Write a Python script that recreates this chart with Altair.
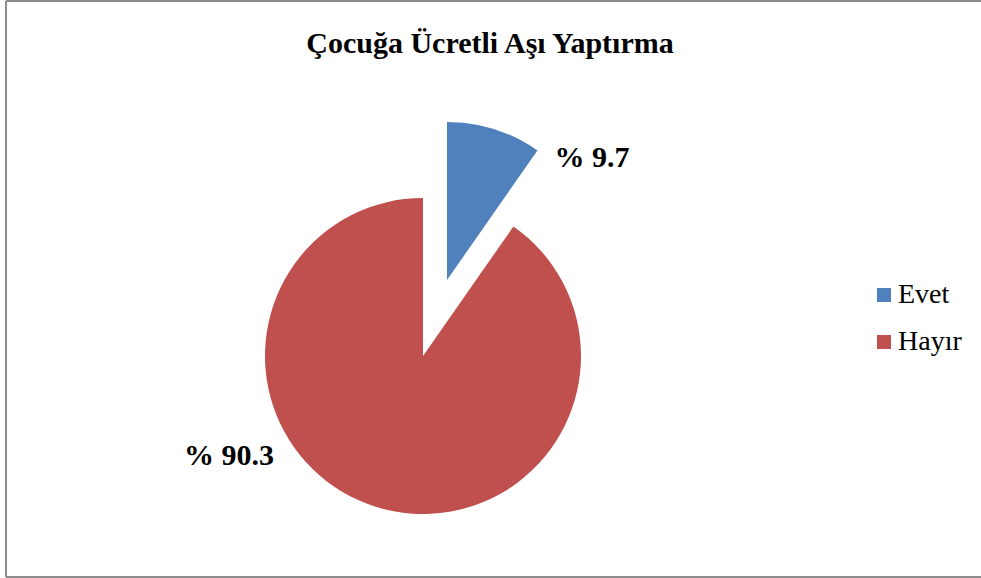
import math
import altair as alt
import pandas as pd

categories = ["Evet", "Hayır"]
values = [9.7, 90.3]
label_texts = ["% 9.7", "% 90.3"]
colors = ["#4F81BD", "#C0504D"]
title_text = "Çocuğa Ücretli Aşı Yaptırma"

SERIF = "Liberation Serif"
BORDER = "#8c8c8c"

df = pd.DataFrame({"cat": categories, "value": values, "label": label_texts, "order": [0, 1]})

base = (
    alt.Chart(df)
    .transform_window(end="sum(value)", sort=[alt.SortField("order")], frame=[None, 0])
    .transform_calculate(start="datum.end - datum.value")
)

theta = alt.Theta("start:Q", scale=alt.Scale(domain=[0, 100], range=[0, 2 * math.pi]))
color = alt.Color(
    "cat:N",
    scale=alt.Scale(domain=categories, range=colors),
    legend=alt.Legend(
        orient="none",
        legendX=864,
        legendY=280,
        title=None,
        symbolType="square",
        symbolSize=196,
        symbolStrokeWidth=0,
        labelFont=SERIF,
        labelFontSize=28,
        labelColor="#000000",
        labelOffset=0,
        rowPadding=19,
    ),
)

R = 158
cx, cy = 417, 355

hayir = base.transform_filter("datum.cat == 'Hayır'").mark_arc(radius=R).encode(
    theta=theta, theta2="end:Q", color=color,
    x=alt.value(cx), y=alt.value(cy),
)
evet = base.transform_filter("datum.cat == 'Evet'").mark_arc(radius=R).encode(
    theta=theta, theta2="end:Q", color=color,
    x=alt.value(cx + 24), y=alt.value(cy - 76),
)

lbl_font = dict(font=SERIF, fontSize=30, fontWeight="bold", color="#000000",
                align="center", baseline="alphabetic")
lbl_evet = alt.Chart(df).transform_filter("datum.cat == 'Evet'").mark_text(**lbl_font).encode(
    text="label:N", x=alt.value(586), y=alt.value(166))
lbl_hayir = alt.Chart(df).transform_filter("datum.cat == 'Hayır'").mark_text(**lbl_font).encode(
    text="label:N", x=alt.value(223), y=alt.value(464))

title = alt.Chart(pd.DataFrame({"t": [title_text]})).mark_text(**lbl_font).encode(
    text="t:N", x=alt.value(484), y=alt.value(52))

one = pd.DataFrame({"k": [0]})
border_left = alt.Chart(one).mark_rule(color=BORDER, strokeWidth=2).encode(
    x=alt.value(0), y=alt.value(0), y2=alt.value(576))
border_top = alt.Chart(one).mark_rule(color=BORDER, strokeWidth=2).encode(
    x=alt.value(0), x2=alt.value(975), y=alt.value(0))
border_bottom = alt.Chart(one).mark_rule(color=BORDER, strokeWidth=2).encode(
    x=alt.value(0), x2=alt.value(975), y=alt.value(576))

chart = (
    alt.layer(hayir, evet, lbl_evet, lbl_hayir, title, border_left, border_top, border_bottom)
    .properties(
        width=974,
        height=576,
        autosize=alt.AutoSizeParams(type="none"),
        padding={"left": 6, "top": 1, "right": 1, "bottom": 1},
        background="#ffffff",
    )
    .configure_view(stroke=None)
)

chart.save("out.html", embed_options={"renderer": "svg", "actions": False})
